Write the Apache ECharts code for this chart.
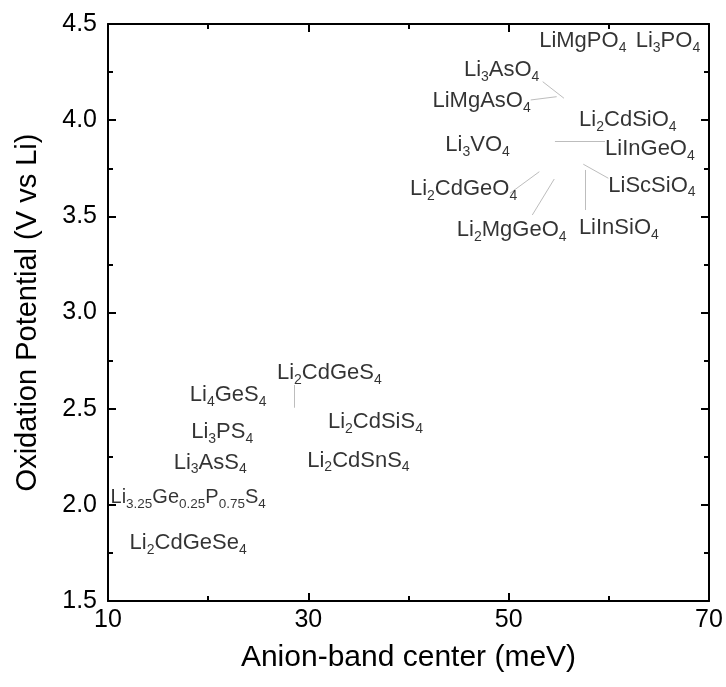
<!DOCTYPE html>
<html>
<head>
<meta charset="utf-8">
<script src="https://cdn.jsdelivr.net/npm/echarts@6/dist/echarts.min.js"></script>
<style>
html,body{margin:0;padding:0;background:#fff;}
#chart{width:726px;height:687px;}
</style>
</head>
<body>
<div id="chart"></div>
<script>
// Compound labels (sub-scripts written as _{...}), and their positions
const compounds = [
  'LiMgPO_{4}', 'Li_{3}PO_{4}', 'Li_{3}AsO_{4}', 'LiMgAsO_{4}', 'Li_{2}CdSiO_{4}',
  'Li_{3}VO_{4}', 'LiInGeO_{4}', 'Li_{2}CdGeO_{4}', 'LiScSiO_{4}', 'Li_{2}MgGeO_{4}',
  'LiInSiO_{4}', 'Li_{2}CdGeS_{4}', 'Li_{4}GeS_{4}', 'Li_{2}CdSiS_{4}', 'Li_{3}PS_{4}',
  'Li_{3}AsS_{4}', 'Li_{2}CdSnS_{4}', 'Li_{3.25}Ge_{0.25}P_{0.75}S_{4}', 'Li_{2}CdGeSe_{4}'
];
const anionBand = [
  57.4, 65.9, 49.3, 47.3, 61.9,
  46.9, 64.1, 45.5, 64.3, 50.3,
  61.0, 32.1, 22.0, 36.7, 21.4,
  20.2, 35.0, 18.0, 18.0
];
const oxidation = [
  4.41, 4.41, 4.26, 4.10, 4.00,
  3.87, 3.85, 3.64, 3.66, 3.43,
  3.44, 2.685, 2.57, 2.43, 2.38,
  2.22, 2.23, 2.04, 1.80
];
// Leader lines (start and end points)
const leadX1 = [53.40, 52.20, 54.62, 50.13, 52.36, 57.62, 57.45, 28.60];
const leadY1 = [4.200, 4.105, 3.892, 3.620, 3.507, 3.741, 3.771, 2.623];
const leadX2 = [55.52, 54.79, 59.62, 53.06, 54.55, 57.62, 59.95, 28.60];
const leadY2 = [4.114, 4.122, 3.892, 3.732, 3.694, 3.533, 3.698, 2.505];

const xTicks = {min: 10, max: 70, interval: 20};
const yTicks = {min: 1.5, max: 4.5, interval: 0.5};

const FONT = '"Liberation Sans", Arial, sans-serif';

function toRich(s) {
  return s.replace(/_\{([^}]*)\}/g, '{s|$1}');
}

const pointData = compounds.map((c, i) => ({
  value: [anionBand[i], oxidation[i]],
  name: c,
  label: c.indexOf('3.25') >= 0 ? {fontSize: 20, rich: {s: {fontSize: 13.5, lineHeight: 13, verticalAlign: 'bottom', fontFamily: FONT, color: '#000'}}} : undefined
}));

const leaderData = leadX1.map((x, i) => ({coords: [[x, leadY1[i]], [leadX2[i], leadY2[i]]]}));

const axisCommon = {
  axisLine: {show: true, onZero: false, lineStyle: {color: '#000', width: 2}},
  axisTick: {show: true, inside: true, length: 8, lineStyle: {color: '#000', width: 2}},
  minorTick: {show: true, splitNumber: 2, length: 5, lineStyle: {color: '#000', width: 2}},
  splitLine: {show: false}
};

const chart = echarts.init(document.getElementById('chart'));
chart.setOption({
  animation: false,
  backgroundColor: '#fff',
  grid: {left: 108, right: 17, top: 24, bottom: 86, containLabel: false},
  xAxis: [
    Object.assign({}, axisCommon, {
      type: 'value', position: 'bottom', min: xTicks.min, max: xTicks.max, interval: xTicks.interval,
      name: 'Anion-band center (meV)', nameLocation: 'middle', nameGap: 42,
      nameTextStyle: {fontSize: 30, color: '#000', fontFamily: FONT},
      axisLabel: {fontSize: 25, color: '#000', fontFamily: FONT, margin: 7}
    }),
    Object.assign({}, axisCommon, {
      type: 'value', position: 'top', min: xTicks.min, max: xTicks.max, interval: xTicks.interval,
      axisLabel: {show: false}
    })
  ],
  yAxis: [
    Object.assign({}, axisCommon, {
      type: 'value', position: 'left', min: yTicks.min, max: yTicks.max, interval: yTicks.interval,
      name: 'Oxidation Potential (V vs Li)', nameLocation: 'middle', nameGap: 66,
      nameTextStyle: {fontSize: 29, color: '#000', fontFamily: FONT},
      axisLabel: {fontSize: 25, color: '#000', fontFamily: FONT, margin: 11, formatter: v => v.toFixed(1)}
    }),
    Object.assign({}, axisCommon, {
      type: 'value', position: 'right', min: yTicks.min, max: yTicks.max, interval: yTicks.interval,
      axisLabel: {show: false}
    })
  ],
  series: [
    {
      type: 'lines',
      coordinateSystem: 'cartesian2d',
      xAxisIndex: 0, yAxisIndex: 0,
      data: leaderData,
      lineStyle: {color: '#bdbdbd', width: 1, opacity: 1},
      silent: true,
      z: 1
    },
    {
      type: 'scatter',
      xAxisIndex: 0, yAxisIndex: 0,
      symbolSize: 0,
      data: pointData,
      z: 3,
      label: {
        show: true,
        position: 'inside',
        formatter: p => toRich(p.name),
        fontSize: 22,
        lineHeight: 28,
        color: '#000',
        fontFamily: FONT,
        rich: {
          s: {fontSize: 14, lineHeight: 14, verticalAlign: 'bottom', fontFamily: FONT, color: '#000'}
        }
      }
    }
  ]
});
</script>
</body>
</html>
